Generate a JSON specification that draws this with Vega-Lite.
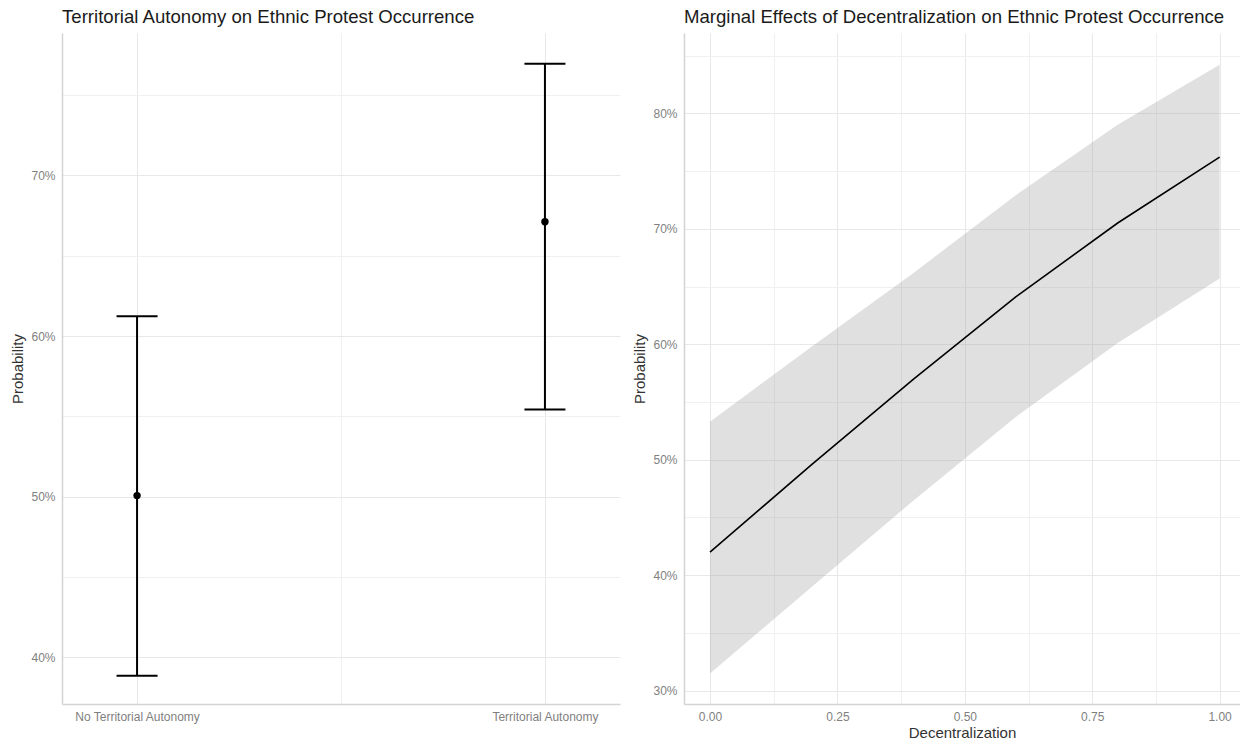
{
  "$schema": "https://vega.github.io/schema/vega-lite/v6.json",
  "padding": {"left": 10, "top": 8, "right": 0, "bottom": 0},
  "spacing": 12,
  "config": {
    "font": "Liberation Sans",
    "view": {"stroke": null},
    "title": {"fontSize": 18.6, "fontWeight": "normal", "color": "#1a1a1a", "anchor": "start", "frame": "group", "offset": 6},
    "axis": {
      "ticks": false,
      "tickSize": 0,
      "labelFontSize": 12,
      "labelColor": "#7f7f7f",
      "labelPadding": 7,
      "titleFontSize": 15,
      "titleFontWeight": "normal",
      "titleColor": "#333333",
      "titlePadding": 5,
      "domainColor": "#d4d4d4",
      "domainWidth": 1.5,
      "gridColor": "#ebebeb",
      "gridWidth": 1
    }
  },
  "datasets": {
    "autonomy": [
      {"autonomy": 0, "group": "No Territorial Autonomy", "prob": 0.5007, "lower": 0.3886, "upper": 0.6123},
      {"autonomy": 1, "group": "Territorial Autonomy", "prob": 0.6711, "lower": 0.5543, "upper": 0.7694}
    ],
    "decentral": [
      {"decentralization": 0.0, "prob": 0.420, "lower": 0.315, "upper": 0.533},
      {"decentralization": 0.2, "prob": 0.496, "lower": 0.390, "upper": 0.598},
      {"decentralization": 0.4, "prob": 0.570, "lower": 0.465, "upper": 0.662},
      {"decentralization": 0.6, "prob": 0.641, "lower": 0.537, "upper": 0.729},
      {"decentralization": 0.8, "prob": 0.705, "lower": 0.601, "upper": 0.790},
      {"decentralization": 1.0, "prob": 0.762, "lower": 0.657, "upper": 0.842}
    ]
  },
  "hconcat": [
    {
      "title": "Territorial Autonomy on Ethnic Protest Occurrence",
      "width": 558,
      "height": 671,
      "data": {"name": "autonomy"},
      "encoding": {
        "x": {
          "field": "autonomy",
          "type": "quantitative",
          "scale": {"domain": [-0.184, 1.184], "nice": false, "zero": false},
          "axis": {
            "title": null,
            "values": [0, 0.5, 1],
            "labelExpr": "datum.value == 0 ? 'No Territorial Autonomy' : (datum.value == 1 ? 'Territorial Autonomy' : '')",
            "gridColor": {"condition": {"test": "datum.value == 0.5", "value": "#f0f0f0"}, "value": "#e8e8e8"}
          }
        }
      },
      "layer": [
        {
          "mark": {"type": "rule", "color": "black", "strokeWidth": 2},
          "encoding": {
            "y": {
              "field": "lower",
              "type": "quantitative",
              "scale": {"domain": [0.371, 0.7886], "nice": false, "zero": false},
              "axis": {
                "title": "Probability",
                "values": [0.40, 0.45, 0.50, 0.55, 0.60, 0.65, 0.70, 0.75],
                "labelExpr": "round(datum.value*100) % 10 == 0 ? format(datum.value, '.0%') : ''",
                "gridColor": {"condition": {"test": "round(datum.value*100) % 10 == 0", "value": "#e8e8e8"}, "value": "#f0f0f0"}
              }
            },
            "y2": {"field": "upper"}
          }
        },
        {
          "mark": {"type": "tick", "orient": "horizontal", "color": "black", "size": 41, "thickness": 2, "opacity": 1},
          "encoding": {"y": {"field": "lower", "type": "quantitative"}}
        },
        {
          "mark": {"type": "tick", "orient": "horizontal", "color": "black", "size": 41, "thickness": 2, "opacity": 1},
          "encoding": {"y": {"field": "upper", "type": "quantitative"}}
        },
        {
          "mark": {"type": "point", "filled": true, "color": "black", "size": 55, "opacity": 1},
          "encoding": {"y": {"field": "prob", "type": "quantitative"}}
        }
      ]
    },
    {
      "title": "Marginal Effects of Decentralization on Ethnic Protest Occurrence",
      "width": 556,
      "height": 671,
      "data": {"name": "decentral"},
      "encoding": {
        "x": {
          "field": "decentralization",
          "type": "quantitative",
          "title": "Decentralization",
          "scale": {"domain": [-0.051, 1.04], "nice": false, "zero": false},
          "axis": {
            "values": [0, 0.125, 0.25, 0.375, 0.5, 0.625, 0.75, 0.875, 1],
            "labelExpr": "round(datum.value*1000) % 250 == 0 ? format(datum.value, '.2f') : ''",
            "titlePadding": 3,
            "gridColor": {"condition": {"test": "round(datum.value*1000) % 250 == 0", "value": "#e8e8e8"}, "value": "#f0f0f0"}
          }
        }
      },
      "layer": [
        {
          "mark": {"type": "area", "color": "#999999", "opacity": 0.3},
          "encoding": {
            "y": {
              "field": "lower",
              "type": "quantitative",
              "scale": {"domain": [0.2885, 0.8695], "nice": false, "zero": false},
              "axis": {
                "title": "Probability",
                "values": [0.30, 0.35, 0.40, 0.45, 0.50, 0.55, 0.60, 0.65, 0.70, 0.75, 0.80, 0.85],
                "labelExpr": "round(datum.value*100) % 10 == 0 ? format(datum.value, '.0%') : ''",
                "gridColor": {"condition": {"test": "round(datum.value*100) % 10 == 0", "value": "#e8e8e8"}, "value": "#f0f0f0"}
              }
            },
            "y2": {"field": "upper"}
          }
        },
        {
          "mark": {"type": "line", "color": "black", "strokeWidth": 1.6},
          "encoding": {"y": {"field": "prob", "type": "quantitative"}}
        }
      ]
    }
  ]
}
